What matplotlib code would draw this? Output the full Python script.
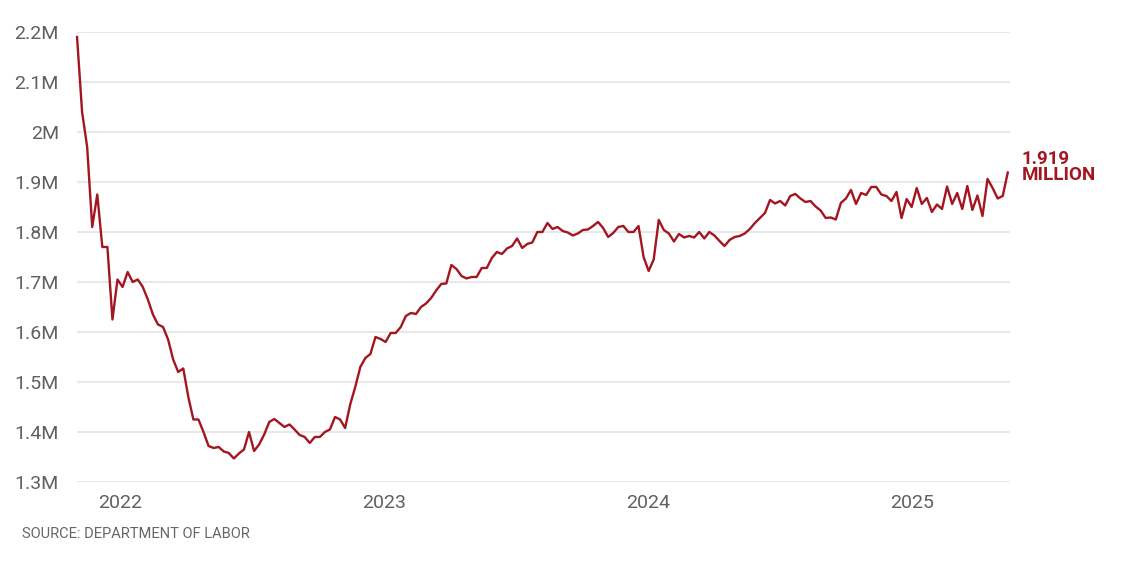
import matplotlib
matplotlib.use("Agg")
import matplotlib.pyplot as plt
import numpy as np
import pandas as pd

# Continuing jobless claims, weekly, millions
start_week = "2021-11-06"
claims = [
    2.19, 2.04, 1.97, 1.81, 1.875, 1.77, 1.77, 1.625, 1.705, 1.69,
    1.72, 1.70, 1.705, 1.69, 1.665, 1.635, 1.615, 1.61, 1.585, 1.545,
    1.52, 1.527, 1.47, 1.425, 1.425, 1.40, 1.372, 1.368, 1.37, 1.361,
    1.358, 1.347, 1.357, 1.365, 1.40, 1.362, 1.375, 1.395, 1.42, 1.426,
    1.418, 1.41, 1.415, 1.405, 1.394, 1.39, 1.378, 1.39, 1.39, 1.40,
    1.405, 1.43, 1.425, 1.408, 1.455, 1.49, 1.53, 1.548, 1.556, 1.59,
    1.586, 1.58, 1.598, 1.598, 1.61, 1.632, 1.638, 1.636, 1.65, 1.657,
    1.668, 1.683, 1.696, 1.697, 1.734, 1.726, 1.712, 1.707, 1.71, 1.71,
    1.728, 1.728, 1.748, 1.76, 1.756, 1.767, 1.772, 1.787, 1.768, 1.776,
    1.779, 1.80, 1.80, 1.818, 1.806, 1.81, 1.802, 1.799, 1.793, 1.797,
    1.804, 1.805, 1.812, 1.82, 1.808, 1.79, 1.798, 1.81, 1.812, 1.80,
    1.80, 1.812, 1.75, 1.722, 1.745, 1.824, 1.804, 1.797, 1.781, 1.796,
    1.789, 1.792, 1.789, 1.80, 1.787, 1.80, 1.793, 1.782, 1.772, 1.784,
    1.79, 1.792, 1.797, 1.806, 1.818, 1.828, 1.838, 1.864, 1.857, 1.862,
    1.853, 1.872, 1.876, 1.867, 1.86, 1.862, 1.851, 1.843, 1.828, 1.829,
    1.825, 1.858, 1.867, 1.884, 1.856, 1.878, 1.874, 1.89, 1.89, 1.875,
    1.872, 1.862, 1.88, 1.828, 1.866, 1.85, 1.888, 1.856, 1.868, 1.84,
    1.855, 1.846, 1.891, 1.856, 1.878, 1.846, 1.892, 1.844, 1.873, 1.832,
    1.906, 1.888, 1.867, 1.872, 1.919,
]
y_ticks = [1.3, 1.4, 1.5, 1.6, 1.7, 1.8, 1.9, 2.0, 2.1, 2.2]
y_labels = ["1.3M", "1.4M", "1.5M", "1.6M", "1.7M", "1.8M", "1.9M", "2M", "2.1M", "2.2M"]
years = ["2022", "2023", "2024", "2025"]

dates = pd.date_range(start_week, periods=len(claims), freq="7D")

RED = "#a3161f"
GREY = "#606060"
plt.rcParams["font.family"] = ["Roboto", "DejaVu Sans"]

fig = plt.figure(figsize=(11.43, 5.63), dpi=100)
ax = fig.add_axes([0.0674, 0.1439, 0.8162, 0.7993])

ax.plot(dates, claims, color=RED, lw=1.7, clip_on=False, zorder=3)

ax.set_ylim(1.3, 2.2)
ax.set_xlim(pd.Timestamp("2021-11-06"), pd.Timestamp("2025-05-20"))
ax.set_yticks(y_ticks)
ax.set_yticklabels(y_labels)
ax.set_xticks([pd.Timestamp(y + "-01-05") for y in years])
ax.set_xticklabels(years)

ax.grid(axis="y", color="#e8e8e8", lw=1.5, zorder=0)
ax.grid(axis="x", visible=False)
for s in ax.spines.values():
    s.set_visible(False)
ax.tick_params(axis="both", length=0, colors=GREY, labelsize=14)
ax.tick_params(axis="y", pad=13)
ax.tick_params(axis="x", pad=9)

ax.annotate("1.919\nMILLION", xy=(dates[-1], claims[-1]), xytext=(10, 4),
            textcoords="offset points", color=RED, fontsize=13.5,
            fontweight="bold", va="center", ha="left", linespacing=0.85)

fig.text(22 / 1143, 1 - 534 / 563, "SOURCE: DEPARTMENT OF LABOR", color="#666666",
         fontsize=10.5, va="center", ha="left")

plt.savefig("out.png", dpi=100)
